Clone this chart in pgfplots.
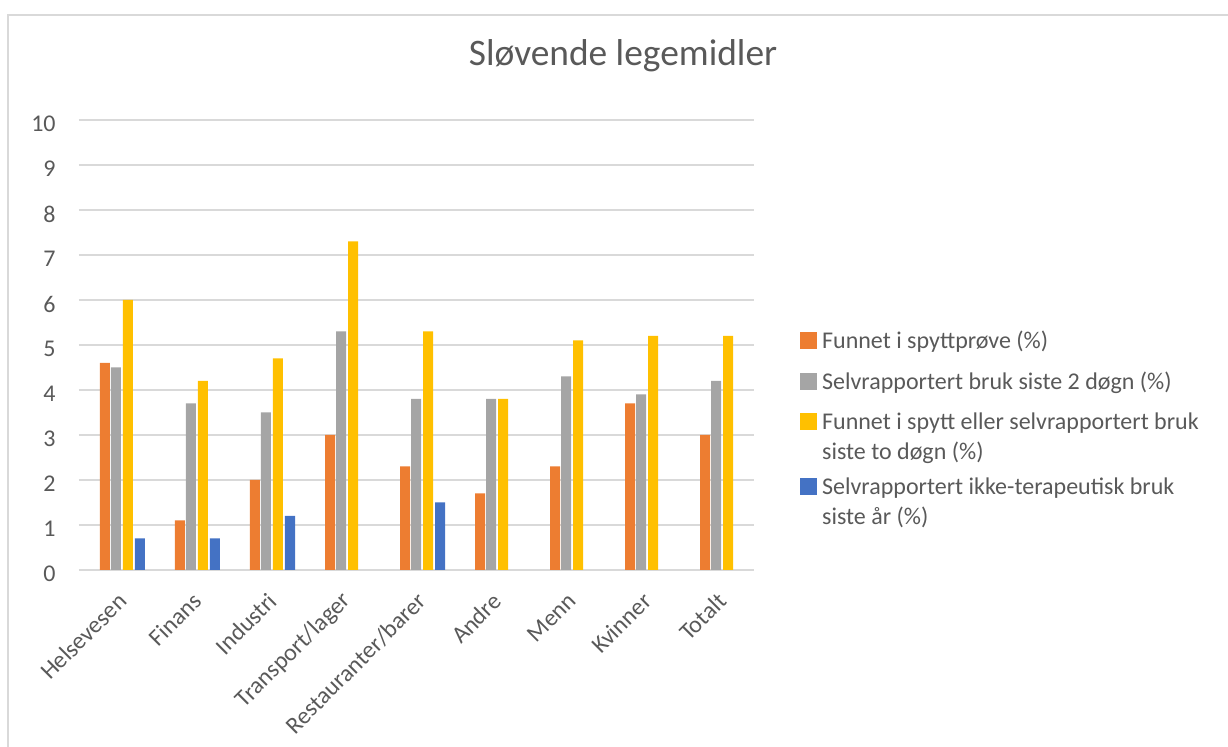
\documentclass[border=0pt]{standalone}
\usepackage{pgfplots}
\pgfplotsset{compat=1.18}
\usepackage{fontspec}
\setmainfont{Carlito}

\definecolor{txt}{HTML}{595959}
\definecolor{gridc}{HTML}{D9D9D9}
\definecolor{cOrange}{HTML}{ED7D31}
\definecolor{cGray}{HTML}{A5A5A5}
\definecolor{cYellow}{HTML}{FFC000}
\definecolor{cBlue}{HTML}{4472C4}

\begin{document}
\begin{tikzpicture}
\begin{axis}[
  scale only axis,
  width=337.5pt, height=225pt,
  ybar, bar width=5pt,
  xmin=-0.58, xmax=8.42,
  ymin=0, ymax=10,
  ytick={0,1,...,10},
  xtick={0,1,...,8},
  xticklabels={Helsevesen,Finans,Industri,Transport/lager,Restauranter/barer,Andre,Menn,Kvinner,Totalt},
  major tick length=0pt,
  axis line style={draw=none},
  ymajorgrids,
  grid style={gridc, line width=0.9pt},
  /pgf/number format/assume math mode=true,
  font=\fontsize{12}{14}\selectfont,
  tick label style={txt},
  yticklabel style={anchor=east, inner sep=0pt, xshift=-11.5pt, yshift=-2pt},
  xticklabel style={rotate=45, anchor=east, inner sep=0pt},
  xticklabel shift=13.5pt,
  title={Sløvende legemidler},
  title style={at={(rel axis cs:0.806,1.117)}, anchor=center, font=\fontsize{18.7}{22}\selectfont, text=txt},
  legend image code/.code={\fill[#1] (0pt,-0.3pt) rectangle (8.3pt,8pt);},
  legend style={at={(rel axis cs:1.0681,0.5333)}, anchor=north west, draw=none, fill=none,
    inner sep=0pt, outer sep=0pt, row sep=0pt, column sep=2.8pt,
    nodes={inner sep=0pt, text=txt}, cells={anchor=base west},
    font=\fontsize{12}{14}\selectfont},
]
\addplot[fill=cOrange, draw=none, bar shift=-8.75pt] coordinates
  {(0,4.6) (1,1.1) (2,2.0) (3,3.0) (4,2.3) (5,1.7) (6,2.3) (7,3.7) (8,3.0)};
\addlegendentry[text height=9pt, text depth=3pt]{Funnet i spyttprøve (\%)}
\addplot[fill=cGray, draw=none, bar shift=-3.25pt] coordinates
  {(0,4.5) (1,3.7) (2,3.5) (3,5.3) (4,3.8) (5,3.8) (6,4.3) (7,3.9) (8,4.2)};
\addlegendentry[text height=17.5pt, text depth=3pt]{Selvrapportert bruk siste 2 døgn (\%)}
\addplot[fill=cYellow, draw=none, bar shift=2.75pt] coordinates
  {(0,6.0) (1,4.2) (2,4.7) (3,7.3) (4,5.3) (5,3.8) (6,5.1) (7,5.2) (8,5.2)};
\addlegendentry[text height=17pt, text depth=3pt]{Funnet i spytt eller selvrapportert bruk}
\addlegendimage{empty legend}
\addlegendentry[text height=12pt, text depth=3pt]{siste to døgn (\%)}
\addplot[fill=cBlue, draw=none, bar shift=8.75pt] coordinates
  {(0,0.7) (1,0.7) (2,1.2) (4,1.5)};
\addlegendentry[text height=14.5pt, text depth=3pt]{Selvrapportert ikke-terapeutisk bruk}
\addlegendimage{empty legend}
\addlegendentry[text height=12pt, text depth=3pt]{siste år (\%)}
\end{axis}
\useasboundingbox (-39.5pt,-88.5pt) rectangle (574.5pt,285pt);
\draw[gridc, line width=1pt] (574.5pt,277.25pt) -- (-35.25pt,277.25pt) -- (-35.25pt,-88.5pt);
\end{tikzpicture}
\end{document}
